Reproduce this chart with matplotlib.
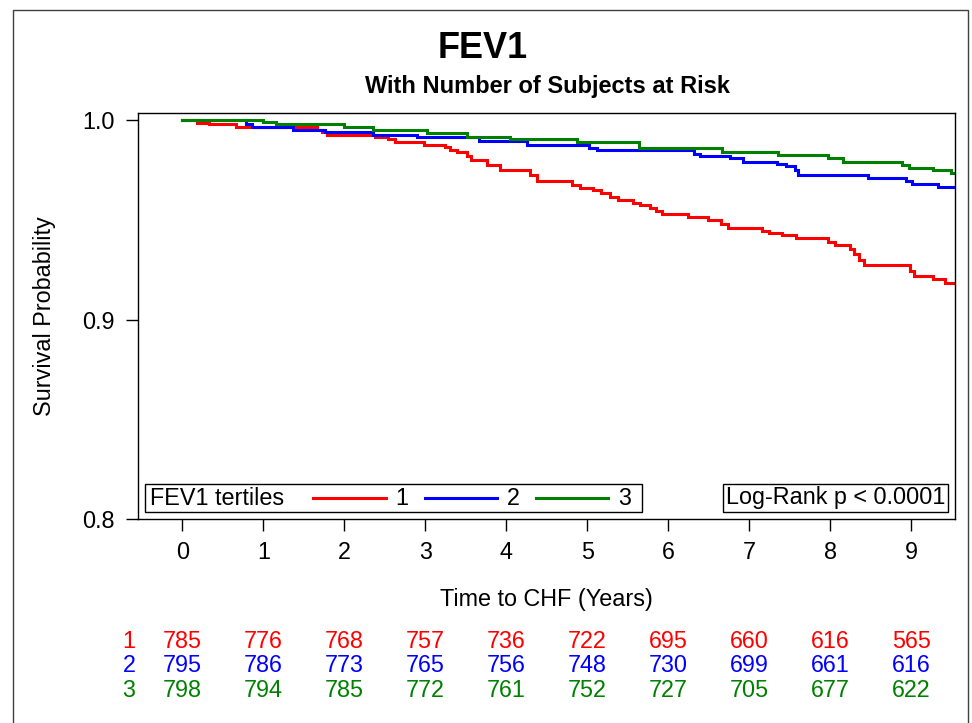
import matplotlib
matplotlib.use('Agg')
import matplotlib.pyplot as plt
from matplotlib.lines import Line2D
from matplotlib.patches import Rectangle
from matplotlib.offsetbox import AnchoredOffsetbox, AnchoredText, HPacker, TextArea, DrawingArea

plt.rcParams['font.family'] = ['Liberation Sans', 'DejaVu Sans']

# Kaplan-Meier steps (time in years, survival probability)
red_t = [0, 0.18, 0.33, 0.66, 1.66, 1.72, 1.79, 2.38, 2.54, 2.63, 2.98, 3.24, 3.30, 3.39, 3.51, 3.56,
         3.76, 3.92, 4.29, 4.38, 4.81, 4.91, 5.07, 5.17, 5.28, 5.38, 5.56, 5.65, 5.77, 5.85, 5.92,
         6.24, 6.49, 6.65, 6.74, 7.16, 7.24, 7.40, 7.58, 7.97, 8.06, 8.24, 8.29, 8.35, 8.42, 8.98,
         9.03, 9.27, 9.42, 9.54]
red_s = [1.0, 0.9984, 0.9976, 0.9961, 0.9949, 0.9940, 0.9925, 0.9915, 0.99025, 0.9890, 0.9875, 0.9861,
         0.9849, 0.98375, 0.9816, 0.97975, 0.9771, 0.9750, 0.9724, 0.9694, 0.96725, 0.96575, 0.96475,
         0.9631, 0.9615, 0.9600, 0.9585, 0.9574, 0.9560, 0.95425, 0.95285, 0.9514, 0.94975, 0.94785,
         0.9460, 0.9445, 0.9431, 0.94225, 0.94075, 0.9390, 0.93725, 0.93525, 0.93275, 0.9300, 0.92725,
         0.92425, 0.9220, 0.9205, 0.9184, 0.9184]

blue_t = [0, 0.78, 0.86, 1.37, 1.76, 2.35, 2.90, 3.66, 4.25, 5.02, 5.12, 6.32, 6.39, 6.76, 6.92, 7.34,
          7.45, 7.56, 7.60, 8.47, 8.94, 9.01, 9.33, 9.54]
blue_s = [1.0, 0.99775, 0.99625, 0.99485, 0.99375, 0.9925, 0.99125, 0.9895, 0.9871, 0.986, 0.9846,
          0.98275, 0.982, 0.9806, 0.9789, 0.978, 0.9766, 0.97475, 0.97225, 0.971, 0.96935, 0.96775,
          0.9661, 0.9661]

green_t = [0, 1.00, 1.16, 2.00, 2.35, 3.02, 3.51, 4.05, 4.87, 5.64, 6.66, 7.35, 7.97, 8.16, 8.88, 8.97,
           9.27, 9.49, 9.54]
green_s = [1.0, 0.99875, 0.99775, 0.99625, 0.99475, 0.9931, 0.9915, 0.99025, 0.98875, 0.9856, 0.98375,
           0.98225, 0.9806, 0.9789, 0.9775, 0.9759, 0.97475, 0.9731, 0.9731]

# number at risk
risk_times = [0, 1, 2, 3, 4, 5, 6, 7, 8, 9]
risk1 = [785, 776, 768, 757, 736, 722, 695, 660, 616, 565]
risk2 = [795, 786, 773, 765, 756, 748, 730, 699, 661, 616]
risk3 = [798, 794, 785, 772, 761, 752, 727, 705, 677, 622]

group_labels = ['1', '2', '3']
group_colors = ['#ff0000', '#0000ff', '#008000']

fs = 16.8

fig = plt.figure(figsize=(9.72, 7.23), dpi=100)
ax = fig.add_axes([0.142, 0.2815, 0.8405, 0.5622])

curves = [(red_t, red_s), (blue_t, blue_s), (green_t, green_s)]
for (t, s), col in zip(curves, group_colors):
    ax.step(t, s, where='post', color=col, lw=2.2, solid_joinstyle='miter')

ax.set_xlim(-0.547, 9.54)
ax.set_ylim(0.8, 1.0033)
ax.set_xticks(risk_times)
ax.set_yticks([0.8, 0.9, 1.0])
ax.set_yticklabels(['0.8', '0.9', '1.0'])
ax.tick_params(axis='both', direction='out', length=8.6, width=1.0, labelsize=fs, color='black')
ax.tick_params(axis='x', pad=7)
ax.tick_params(axis='y', pad=8.5)
for sp in ax.spines.values():
    sp.set_linewidth(1.0)
    sp.set_color('black')

ax.set_xlabel('Time to CHF (Years)', fontsize=fs)
ax.xaxis.set_label_coords(0.5, -0.1685)
ax.set_ylabel('Survival Probability', fontsize=fs)
ax.yaxis.set_label_coords(-0.1004, 0.5)

# legend box: title, then one line sample + label per tertile
def spacer(w):
    return DrawingArea(w, 10, 0, 0)

parts = [spacer(2), TextArea('FEV1 tertiles', textprops=dict(fontsize=fs)), spacer(21)]
for i, (lab, col) in enumerate(zip(group_labels, group_colors)):
    da = DrawingArea(52, 10, 0, 0)
    da.add_artist(Line2D([0, 52], [5, 5], color=col, lw=2.2))
    parts += [da, spacer(7.2), TextArea(lab, textprops=dict(fontsize=fs))]
    parts.append(spacer(11.5) if i < len(group_labels) - 1 else spacer(6.3))
packer = HPacker(children=parts, align='center', pad=0, sep=0)
leg = AnchoredOffsetbox(loc='lower left', child=packer, pad=0.1, borderpad=0, frameon=True,
                        prop=dict(size=fs), bbox_to_anchor=(0.0086, 0.018),
                        bbox_transform=ax.transAxes)
leg.patch.set_boxstyle('square', pad=0)
leg.patch.set_edgecolor('black')
leg.patch.set_linewidth(1.0)
ax.add_artist(leg)

lr = AnchoredText('Log-Rank p < 0.0001', loc='lower right', prop=dict(size=fs), frameon=True,
                  pad=0.12, borderpad=0, bbox_to_anchor=(0.9914, 0.018),
                  bbox_transform=ax.transAxes)
lr.patch.set_boxstyle('square', pad=0)
lr.patch.set_edgecolor('black')
lr.patch.set_linewidth(1.0)
ax.add_artist(lr)

# at-risk table
row_y = [-0.299, -0.3604, -0.4219]
trans = ax.get_xaxis_transform()
for risk, lab, col, yy in zip([risk1, risk2, risk3], group_labels, group_colors, row_y):
    ax.text(-0.66, yy, lab, color=col, fontsize=fs, ha='center', va='center', transform=trans)
    for t, n in zip(risk_times, risk):
        ax.text(t, yy, str(n), color=col, fontsize=fs, ha='center', va='center', transform=trans)

fig.text(483 / 972, 1 - 48 / 723, 'FEV1', fontsize=26, fontweight='bold', ha='center', va='center')
fig.text(547 / 972, 1 - 86 / 723, 'With Number of Subjects at Risk', fontsize=17, fontweight='bold',
         ha='center', va='center')

# outer frame of the graph
fig.patches.append(Rectangle((13 / 972, -0.02), 955 / 972, 1.02 - 10 / 723, transform=fig.transFigure,
                             fill=False, edgecolor='#404040', lw=1.0))

fig.savefig('out.png', dpi=100)
